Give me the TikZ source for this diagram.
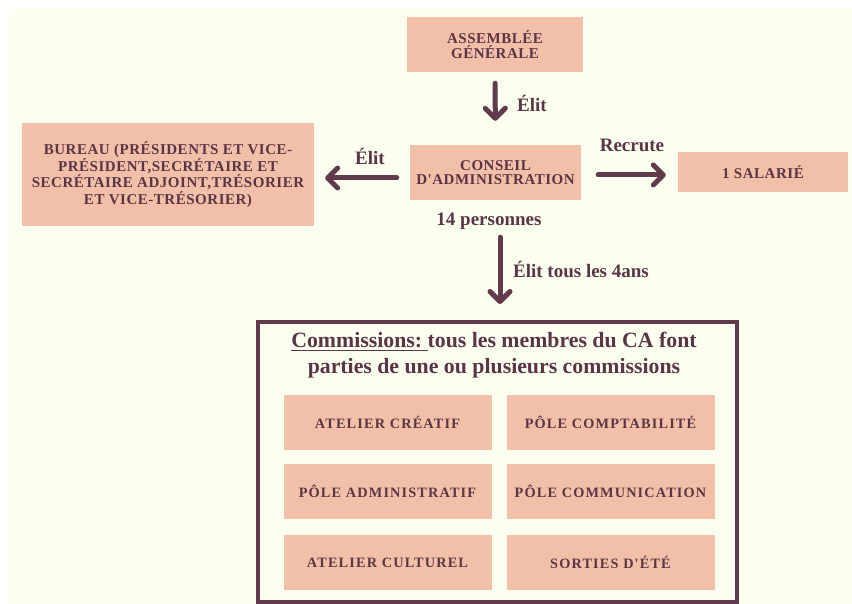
\documentclass[tikz,border=0pt]{standalone}
\usepackage{fontspec}
\setmainfont{Liberation Serif}
\newfontfamily\topfont[LetterSpace=3.5]{Liberation Serif}
\newfontfamily\comfont[LetterSpace=8]{Liberation Serif}
\usetikzlibrary{arrows.meta}
\definecolor{bgc}{HTML}{FBFFF0}
\definecolor{boxc}{HTML}{F2C0A8}
\definecolor{txtc}{HTML}{5B3546}
\definecolor{arrc}{HTML}{613A4C}
\tikzset{
  topbox/.style={fill=boxc, draw=none, inner sep=0pt, align=center, text=txtc,
    font=\topfont\bfseries\fontsize{15}{14.5}\selectfont},
  combox/.style={fill=boxc, draw=none, inner sep=0pt, align=center, text=txtc,
    minimum width=208pt, minimum height=55pt,
    font=\comfont\bfseries\fontsize{14.3}{15}\selectfont},
  lbl/.style={text=txtc, inner sep=0pt, anchor=base, font=\bfseries\fontsize{19}{21}\selectfont},
  arr/.style={draw=arrc, line width=5pt, line cap=round,
    -{Straight Barb[length=10pt,width=20pt,round]}},
}
\begin{document}
\begin{tikzpicture}[x=1pt,y=-1pt]
\useasboundingbox (0,0) rectangle (852,604);
\fill[white] (0,0) rectangle (852,604);
\fill[bgc] (9,9) rectangle (852,604);

\node[topbox, minimum width=176pt, minimum height=55pt] (ag) at (495,44.5) {ASSEMBLÉE\\GÉNÉRALE};
\node[topbox, minimum width=171pt, minimum height=55pt] (ca) at (495.5,172.5) {CONSEIL\\D'ADMINISTRATION};
\node[topbox, minimum width=292pt, minimum height=103pt] (bureau) at (168,174.5)
  {BUREAU (PRÉSIDENTS ET VICE-\\PRÉSIDENT,SECRÉTAIRE ET\\SECRÉTAIRE ADJOINT,TRÉSORIER\\ET VICE-TRÉSORIER)};
\node[topbox, minimum width=170pt, minimum height=40pt] (sal) at (763,172) {1 SALARIÉ};

\node[draw=arrc, line width=4pt, minimum width=479pt, minimum height=280pt, inner sep=0pt] (comm) at (497.5,462) {};

\node[text=txtc, align=center, inner sep=0pt, anchor=base, font=\bfseries\fontsize{21.8}{25}\selectfont] (title) at (494,373)
  {\underline{Commissions:\ }tous les membres du CA font\\parties de une ou plusieurs commissions};

\node[combox] (c1) at (387.5,422.5) {ATELIER CRÉATIF};
\node[combox] (c2) at (610.5,422.5) {PÔLE COMPTABILITÉ};
\node[combox] (c3) at (387.5,491.5) {PÔLE ADMINISTRATIF};
\node[combox] (c4) at (610.5,491.5) {PÔLE COMMUNICATION};
\node[combox] (c5) at (387.5,562.5) {ATELIER CULTUREL};
\node[combox] (c6) at (610.5,562.5) {SORTIES D'ÉTÉ};

\draw[arr, shorten <=11pt, shorten >=24pt] (ag.south) -- (ca.north);
\draw[arr, shorten <=13pt, shorten >=11pt] ([yshift=-5.5pt]ca.west) -- ([yshift=-5.5pt]ca.west -| bureau.east);
\draw[arr, shorten <=17pt, shorten >=12pt] ([yshift=-2.5pt]ca.east) -- ([yshift=-2.5pt]ca.east -| sal.west);
\draw[arr, shorten <=37pt, shorten >=16pt] ([xshift=4.5pt]ca.south) -- ([xshift=4.5pt]ca.south |- comm.north);

\node[lbl] (l1) at (532,112) {Élit};
\node[lbl] (l2) at (370,165) {Élit};
\node[lbl] (l3) at (632,152) {Recrute};
\node[lbl] (l4) at (489,226) {14 personnes};
\node[lbl] (l5) at (581,278) {Élit tous les 4ans};
\end{tikzpicture}
\end{document}
